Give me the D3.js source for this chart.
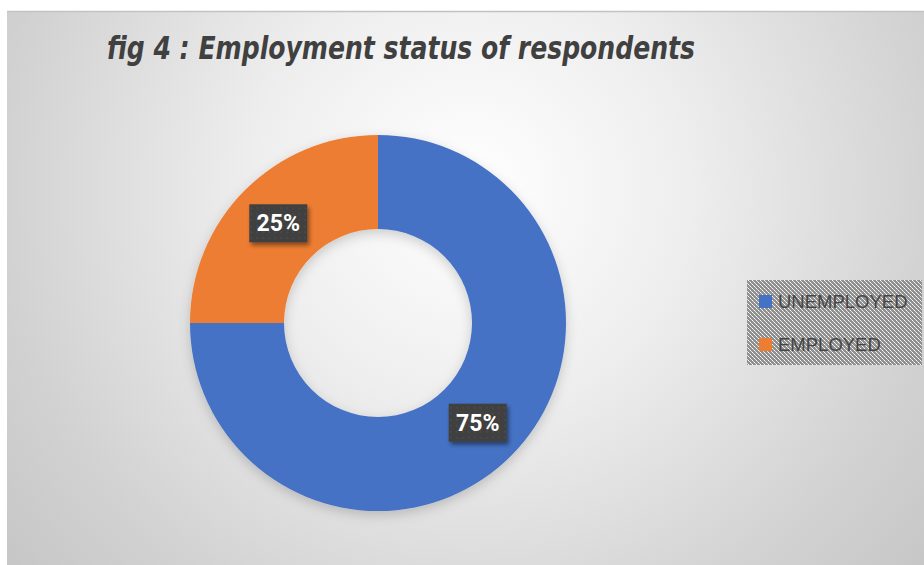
<!DOCTYPE html>
<html>
<head>
<meta charset="utf-8">
<script src="https://cdn.jsdelivr.net/npm/d3@7"></script>
<style>
  body { margin: 0; background: #fff; }
  svg { display: block; }
</style>
</head>
<body>
<div id="chart"></div>
<script>
(function() {
    var width = 924,
        height = 565;

    // data
    var categories = ["UNEMPLOYED", "EMPLOYED"];
    var values = [75, 25];
    var labels = ["75%", "25%"];
    var colors = ["#4472C4", "#ED7D31"];
    var title = "fig 4 : Employment status of respondents";

    var svg = d3.select("#chart")
        .append("svg")
        .attr("width", width)
        .attr("height", height);

    var defs = svg.append("defs");

    var bg = defs.append("radialGradient")
        .attr("id", "bg")
        .attr("gradientUnits", "userSpaceOnUse")
        .attr("cx", 470).attr("cy", 190).attr("r", 620);
    bg.append("stop").attr("offset", "0").attr("stop-color", "#ffffff");
    bg.append("stop").attr("offset", "0.35").attr("stop-color", "#eeeeee");
    bg.append("stop").attr("offset", "0.75").attr("stop-color", "#d2d2d2");
    bg.append("stop").attr("offset", "1").attr("stop-color", "#c4c4c4");

    var shadow = defs.append("filter").attr("id", "shadow")
        .attr("x", "-20%").attr("y", "-20%").attr("width", "140%").attr("height", "140%");
    shadow.append("feDropShadow")
        .attr("dx", 0).attr("dy", 4).attr("stdDeviation", 6)
        .attr("flood-color", "#000").attr("flood-opacity", 0.18);

    var lblShadow = defs.append("filter").attr("id", "lblshadow")
        .attr("x", "-30%").attr("y", "-30%").attr("width", "160%").attr("height", "160%");
    lblShadow.append("feDropShadow")
        .attr("dx", 2).attr("dy", 3).attr("stdDeviation", 2)
        .attr("flood-color", "#000").attr("flood-opacity", 0.45);

    var dots = defs.append("pattern")
        .attr("id", "dots")
        .attr("patternUnits", "userSpaceOnUse")
        .attr("width", 4).attr("height", 4);
    dots.append("rect").attr("width", 4).attr("height", 4).attr("fill", "#8f8f8f");
    dots.append("rect").attr("x", 0).attr("y", 0).attr("width", 1).attr("height", 1).attr("fill", "#ffffff");
    dots.append("rect").attr("x", 2).attr("y", 2).attr("width", 1).attr("height", 1).attr("fill", "#ffffff");
    dots.append("rect").attr("x", 1).attr("y", 1).attr("width", 1).attr("height", 1).attr("fill", "#dcdcdc");
    dots.append("rect").attr("x", 3).attr("y", 3).attr("width", 1).attr("height", 1).attr("fill", "#dcdcdc");

    var lblDots = defs.append("pattern")
        .attr("id", "lbldots")
        .attr("patternUnits", "userSpaceOnUse")
        .attr("width", 6).attr("height", 6);
    lblDots.append("rect").attr("width", 6).attr("height", 6).attr("fill", "#3f3f3f");
    lblDots.append("rect").attr("x", 2).attr("y", 2).attr("width", 2).attr("height", 2).attr("fill", "#4a4a4a");

    // chart area
    svg.append("rect")
        .attr("x", 7).attr("y", 12)
        .attr("width", width - 7).attr("height", height - 12)
        .attr("fill", "url(#bg)");
    svg.append("line")
        .attr("x1", 7).attr("x2", width)
        .attr("y1", 11.5).attr("y2", 11.5)
        .attr("stroke", "#c2c2c2").attr("stroke-width", 1.5);

    svg.append("text")
        .attr("x", 107).attr("y", 59)
        .attr("textLength", 588)
        .attr("lengthAdjust", "spacingAndGlyphs")
        .style("font-family", "'Liberation Sans Narrow', 'DejaVu Sans Condensed', 'Liberation Sans', sans-serif")
        .style("font-weight", "bold")
        .style("font-style", "italic")
        .style("font-size", "32px")
        .attr("fill", "#404040")
        .text(title);

    // donut
    var cx = 378, cy = 323;
    var outerR = 188, innerR = 94;

    var pie = d3.pie().sort(null).value(function(d) { return d; });
    var arc = d3.arc().innerRadius(innerR).outerRadius(outerR);

    var g = svg.append("g")
        .attr("transform", "translate(" + cx + "," + cy + ")");

    var arcs = pie(values);

    g.append("g")
        .attr("filter", "url(#shadow)")
        .selectAll("path")
        .data(arcs)
        .enter().append("path")
        .attr("d", arc)
        .attr("fill", function(d, i) { return colors[i]; });

    var lbl = g.selectAll(".lbl")
        .data(arcs)
        .enter().append("g")
        .attr("class", "lbl")
        .attr("transform", function(d) {
            var c = arc.centroid(d);
            return "translate(" + c[0] + "," + c[1] + ")";
        });

    lbl.append("rect")
        .attr("x", -29).attr("y", -19)
        .attr("width", 58).attr("height", 38)
        .attr("fill", "url(#lbldots)")
        .attr("filter", "url(#lblshadow)");

    lbl.append("text")
        .attr("text-anchor", "middle")
        .attr("y", 8)
        .style("font-family", "Roboto, 'Liberation Sans', sans-serif")
        .style("font-weight", "bold")
        .style("font-size", "23px")
        .attr("fill", "#ffffff")
        .text(function(d, i) { return labels[i]; });

    // legend
    var legend = svg.append("g");
    legend.append("rect")
        .attr("x", 747).attr("y", 280)
        .attr("width", 175).attr("height", 85)
        .attr("fill", "url(#dots)");

    var item = legend.selectAll(".item")
        .data(categories)
        .enter().append("g")
        .attr("class", "item")
        .attr("transform", function(d, i) { return "translate(759," + (295 + i * 43) + ")"; });

    item.append("rect")
        .attr("width", 13).attr("height", 13)
        .attr("fill", function(d, i) { return colors[i]; });

    item.append("text")
        .attr("x", 19).attr("y", 13)
        .style("font-family", "'Liberation Sans', sans-serif")
        .style("font-size", "18.5px")
        .attr("fill", "#454545")
        .text(function(d) { return d; });
})();
</script>
</body>
</html>
